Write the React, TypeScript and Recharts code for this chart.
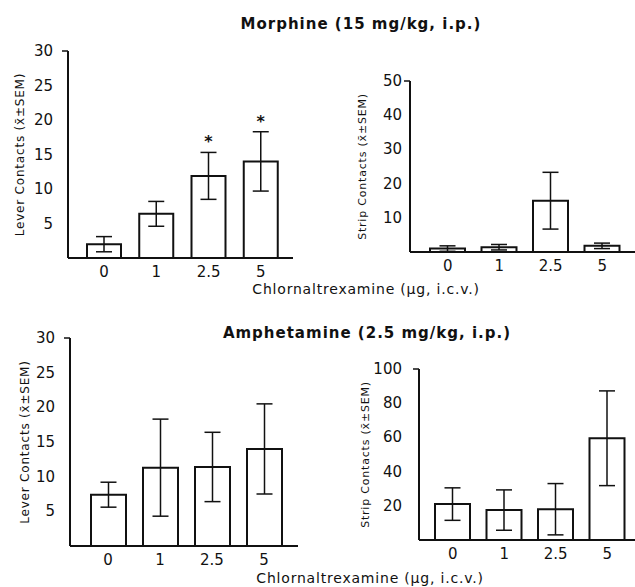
import React from "react";
import { Bar, BarChart, ErrorBar, LabelList, XAxis, YAxis } from "recharts";

const FONT = "'DejaVu Sans', sans-serif";
const INK = "#111";

// dosis de clornaltrexamina (µg, i.c.v.)
const doses = ["0", "1", "2.5", "5"];

// Morfina (15 mg/kg, i.p.)
const morphLeverMean = [2, 6.4, 11.9, 14];
const morphLeverSem = [1.1, 1.8, 3.4, 4.3];
const morphLeverSig = [false, false, true, true];
const morphStripMean = [1, 1.4, 15, 1.8];
const morphStripSem = [0.8, 0.8, 8.3, 0.8];

// Anfetamina (2.5 mg/kg, i.p.)
const amphLeverMean = [7.4, 11.3, 11.4, 14];
const amphLeverSem = [1.8, 7, 5, 6.5];
const amphStripMean = [21, 17.5, 18, 59.5];
const amphStripSem = [9.5, 11.8, 15, 27.7];

const leverTicks = [5, 10, 15, 20, 25, 30];
const morphStripTicks = [10, 20, 30, 40, 50];
const amphStripTicks = [20, 40, 60, 80, 100];

interface Punto {
  dose: string;
  mean: number;
  sem: number;
  sig: boolean;
}

function build(mean: number[], sem: number[], sig?: boolean[]): Punto[] {
  return doses.map((d, i) => ({ dose: d, mean: mean[i], sem: sem[i], sig: !!sig?.[i] }));
}

interface PanelProps {
  left: number;
  top: number;
  width: number;
  height: number;
  yWidth: number;
  ticks: number[];
  data: Punto[];
  yLabel: string;
  labelX: number;
  labelSize: number;
  tickGap: number;
  padL: number;
  padR: number;
  barSize: number;
}

function Panel(p: PanelProps) {
  const max = p.ticks[p.ticks.length - 1];

  // solo la marca superior del eje lleva rayita
  const YTick = (t: { x?: number; y?: number; payload?: { value: number } }) => {
    const x = Number(t.x);
    const y = Number(t.y);
    const axisX = x + p.tickGap;
    return (
      <g>
        {t.payload?.value === max && (
          <line x1={axisX - 6} x2={axisX} y1={y} y2={y} stroke={INK} strokeWidth={1.5} />
        )}
        <text x={x} y={y} textAnchor="end" dominantBaseline="central" fontSize={15} fill={INK} fontFamily={FONT}>
          {t.payload?.value}
        </text>
      </g>
    );
  };

  // asterisco sobre la barra de error (según la escala de la propia barra)
  const Star = (s: { x?: number | string; y?: number | string; width?: number | string; height?: number | string; index?: number }) => {
    const d = p.data[s.index ?? 0];
    if (!d || !d.sig) return <g />;
    const h = Number(s.height);
    const pxPerUnit = h / d.mean;
    const cx = Number(s.x) + Number(s.width) / 2;
    const yTop = Number(s.y) - d.sem * pxPerUnit;
    return (
      <text x={cx} y={yTop - 5} textAnchor="middle" fontSize={16} fontWeight={700} fill={INK} fontFamily={FONT}>
        *
      </text>
    );
  };

  return (
    <div style={{ position: "absolute", left: p.left, top: p.top }}>
      <BarChart
        width={p.width}
        height={p.height}
        data={p.data}
        margin={{ top: 10, right: 0, bottom: 0, left: 0 }}
        barSize={p.barSize}
      >
        <XAxis
          dataKey="dose"
          height={30}
          tickLine={false}
          axisLine={{ stroke: INK, strokeWidth: 2 }}
          padding={{ left: p.padL, right: p.padR }}
          tick={{ fontSize: 15, fill: INK, fontFamily: FONT }}
        />
        <YAxis
          width={p.yWidth}
          domain={[0, max]}
          ticks={p.ticks}
          interval={0}
          tickLine={false}
          tickSize={0}
          tickMargin={p.tickGap}
          axisLine={{ stroke: INK, strokeWidth: 2 }}
          tick={YTick}
          label={({ viewBox }: { viewBox?: { x: number; y: number; height: number } }) => {
            const vb = viewBox ?? { x: 0, y: 0, height: 0 };
            const lx = p.labelX;
            const ly = vb.y + vb.height / 2;
            return (
              <text
                x={lx}
                y={ly}
                transform={`rotate(-90, ${lx}, ${ly})`}
                textAnchor="middle"
                dominantBaseline="central"
                fontSize={p.labelSize}
                letterSpacing={0.8}
                fill={INK}
                fontFamily={FONT}
              >
                {p.yLabel}
              </text>
            );
          }}
        />
        <Bar dataKey="mean" fill="#fff" stroke={INK} strokeWidth={2} isAnimationActive={false}>
          <ErrorBar dataKey="sem" width={8} stroke={INK} strokeWidth={1.5} direction="y" />
          <LabelList dataKey="mean" content={Star} />
        </Bar>
      </BarChart>
    </div>
  );
}

const titleStyle: React.CSSProperties = {
  position: "absolute",
  width: 400,
  textAlign: "center",
  fontFamily: FONT,
  fontSize: 15,
  fontWeight: 700,
  letterSpacing: 1,
  lineHeight: "16px",
  color: INK,
  whiteSpace: "nowrap",
};

const axisTitleStyle: React.CSSProperties = {
  position: "absolute",
  width: 400,
  textAlign: "center",
  fontFamily: FONT,
  fontSize: 14,
  letterSpacing: 0.8,
  lineHeight: "16px",
  color: INK,
  whiteSpace: "nowrap",
};

export default function App() {
  return (
    <div style={{ position: "absolute", left: 0, top: 0, width: 635, height: 587, background: "#fff", overflow: "hidden" }}>
      <div style={{ ...titleStyle, left: 161, top: 16 }}>Morphine (15 mg/kg, i.p.)</div>
      <Panel
        left={0}
        top={41}
        width={293}
        height={247}
        yWidth={68}
        ticks={leverTicks}
        data={build(morphLeverMean, morphLeverSem, morphLeverSig)}
        yLabel="Lever Contacts (x̄±SEM)"
        labelX={20}
        labelSize={12}
        tickGap={15}
        padL={10}
        padR={6}
        barSize={34}
      />
      <Panel
        left={320}
        top={71}
        width={315}
        height={211}
        yWidth={90}
        ticks={morphStripTicks}
        data={build(morphStripMean, morphStripSem)}
        yLabel="Strip Contacts (x̄±SEM)"
        labelX={42}
        labelSize={11}
        tickGap={8}
        padL={12}
        padR={7}
        barSize={35}
      />
      <div style={{ ...axisTitleStyle, left: 166, top: 281 }}>Chlornaltrexamine (µg, i.c.v.)</div>

      <div style={{ ...titleStyle, left: 167, top: 325 }}>Amphetamine (2.5 mg/kg, i.p.)</div>
      <Panel
        left={0}
        top={328}
        width={298}
        height={248}
        yWidth={70}
        ticks={leverTicks}
        data={build(amphLeverMean, amphLeverSem)}
        yLabel="Lever Contacts (x̄±SEM)"
        labelX={25}
        labelSize={12}
        tickGap={15}
        padL={12}
        padR={8}
        barSize={35}
      />
      <Panel
        left={320}
        top={359}
        width={315}
        height={211}
        yWidth={99}
        ticks={amphStripTicks}
        data={build(amphStripMean, amphStripSem)}
        yLabel="Strip Contacts (x̄±SEM)"
        labelX={45}
        labelSize={11}
        tickGap={17}
        padL={8}
        padR={2}
        barSize={35}
      />
      <div style={{ ...axisTitleStyle, left: 170, top: 570 }}>Chlornaltrexamine (µg, i.c.v.)</div>
    </div>
  );
}
